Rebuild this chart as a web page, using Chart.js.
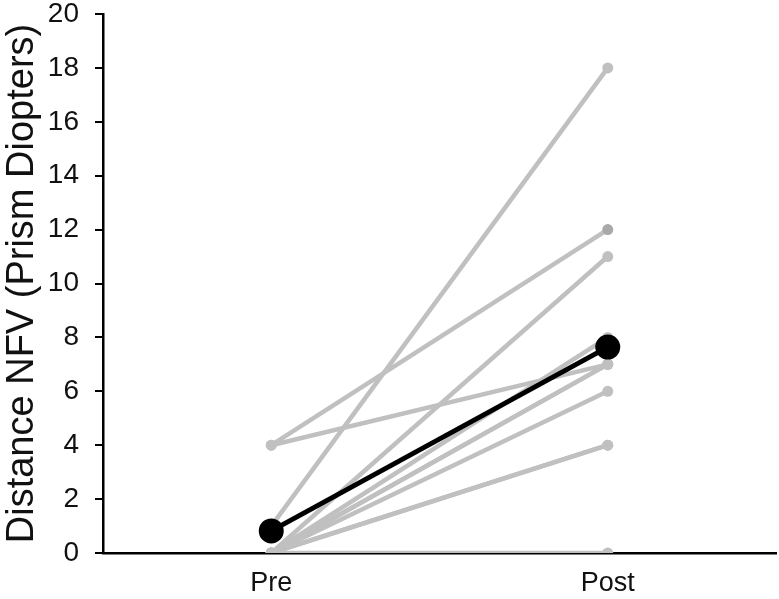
<!DOCTYPE html>
<html>
<head>
    <meta charset="utf-8" />
    <style>
        body { margin: 0; background: #fff; }
        #wrap { width: 779px; height: 599px; }
    </style>
</head>
<body>
    <div id="wrap"><canvas id="chart"></canvas></div>

    <script src="https://cdn.jsdelivr.net/npm/chart.js"></script>
    <script type="text/javascript">
        // categorias del eje x
        var etiquetas = ['Pre', 'Post'];
        // valores de cada participante (Pre -> Post)
        var preValues  = [1, 4, 4, 0, 0, 0, 0, 0, 0, 0, 0];
        var postValues = [18, 12, 7, 11, 8, 7, 7, 6, 4, 4, 0];
        // media del grupo
        var meanValues = [0.82, 7.64];
        // ticks del eje y
        var yTicks = [0, 2, 4, 6, 8, 10, 12, 14, 16, 18, 20];

        var gris = '#c0c0c0';
        var fuente = "'Liberation Sans', Arial, sans-serif";

        var datasets = [];
        // la media va primero para que quede arriba
        datasets.push({
            label: 'Media',
            data: meanValues,
            borderColor: '#000',
            backgroundColor: '#000',
            borderWidth: 5,
            pointRadius: 10,
            pointHoverRadius: 10
        });
        preValues.forEach(function (v, i) {
            datasets.push({
                label: 'P' + (i + 1),
                data: [v, postValues[i]],
                borderColor: gris,
                backgroundColor: i === 1 ? ['#c0c0c0', '#a9a9a9'] : gris,
                pointBackgroundColor: i === 1 ? ['#c0c0c0', '#a9a9a9'] : gris,
                pointBorderWidth: 0,
                borderWidth: 4.5,
                pointRadius: 5.5
            });
        });

        new Chart(document.getElementById('chart'), {
            type: 'line',
            data: { labels: etiquetas, datasets: datasets },
            options: {
                responsive: true,
                maintainAspectRatio: false,
                animation: false,
                layout: { autoPadding: false, padding: { left: 0, right: 3, top: 14, bottom: 0 } },
                plugins: { legend: { display: false }, tooltip: { enabled: false } },
                scales: {
                    x: {
                        offset: true,
                        grid: { display: false, drawTicks: false },
                        border: { display: true, color: '#000', width: 2.5 },
                        ticks: { color: '#111', padding: 14, font: { family: fuente, size: 27 } },
                        afterFit: function (s) { s.height = 46; }
                    },
                    y: {
                        min: 0,
                        max: 20,
                        afterBuildTicks: function (s) { s.ticks = yTicks.map(function (v) { return { value: v }; }); },
                        grid: { drawOnChartArea: false, drawTicks: true, tickLength: 8, color: '#000', lineWidth: 2 },
                        border: { display: true, color: '#000', width: 2.5 },
                        ticks: { color: '#111', padding: 16, font: { family: fuente, size: 28 } },
                        title: {
                            display: true,
                            text: 'Distance NFV (Prism Diopters)',
                            color: '#111',
                            font: { family: fuente, size: 38 },
                            padding: { top: 0, bottom: 0 }
                        },
                        afterFit: function (s) { s.width = 103; s.paddingTop = 0; s.paddingBottom = 0; }
                    }
                }
            }
        });
    </script>
</body>
</html>
